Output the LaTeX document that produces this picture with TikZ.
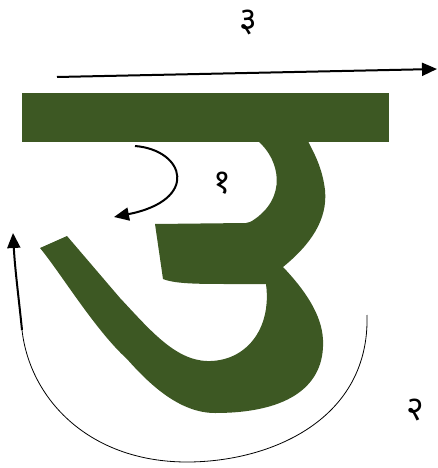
\documentclass[tikz,border=0pt]{standalone}
\usepackage{fontspec}
\newfontfamily\deva[Script=Devanagari]{Noto Sans}
\usetikzlibrary{arrows.meta}
\definecolor{ug}{RGB}{61,88,35}
\tikzset{
  lbl/.style={font=\deva\fontsize{34}{34}\selectfont, inner sep=0pt},
  strokearrow/.style={line width=2pt, -{Triangle[length=15pt,width=13pt]}},
  thinarrow/.style={line width=0.8pt},
}
\begin{document}
\begin{tikzpicture}[x=1pt,y=-1pt]
\useasboundingbox (0,0) rectangle (438,468);
% letter body
\fill[ug] (258,135) -- (258,141) .. controls (280,160) and (288,198) .. (252,221)
  .. controls (250,222) .. (246,223) -- (155,224) -- (163,279)
  .. controls (175,284) and (200,284) .. (230,284) -- (266,284)
  .. controls (272,330) and (245,362) .. (207,361)
  .. controls (175,360) and (150,330) .. (120,298) -- (67,236) -- (40,248)
  .. controls (60,272) and (95,330) .. (127,359)
  .. controls (150,385) and (180,413) .. (215,413)
  .. controls (290,413) and (325,385) .. (323,340)
  .. controls (322,315) and (305,290) .. (283,267)
  .. controls (310,245) and (328,220) .. (325,190)
  .. controls (322,165) and (312,150) .. (308,141) -- (308,135) -- cycle;
% head bar
\fill[ug] (22,93) rectangle (389,142);
% arrows
\coordinate (a3s) at (57,77);
\coordinate (a3e) at (437,69);
\draw[strokearrow] (a3s) -- (a3e);
\coordinate (a1s) at (135,146);
\coordinate (a1e) at (114,217);
\draw[strokearrow] (a1s) .. controls (185,150) and (200,200) .. (a1e);
\coordinate (a2s) at (367,315);
\coordinate (a2m) at (187,462);
\coordinate (a2l) at (22,330);
\coordinate (a2e) at (13,233);
\draw[thinarrow] (a2s) .. controls (370,420) and (270,462) .. (a2m)
  .. controls (90,462) and (30,400) .. (a2l);
\draw[strokearrow] (a2l) .. controls (19,300) and (15,270) .. (a2e);
% labels
\node[lbl] (n3) at (248,22) {३};
\node[lbl] (n1) at (222,183) {१};
\node[lbl] (n2) at (415,410) {२};
\end{tikzpicture}
\end{document}
